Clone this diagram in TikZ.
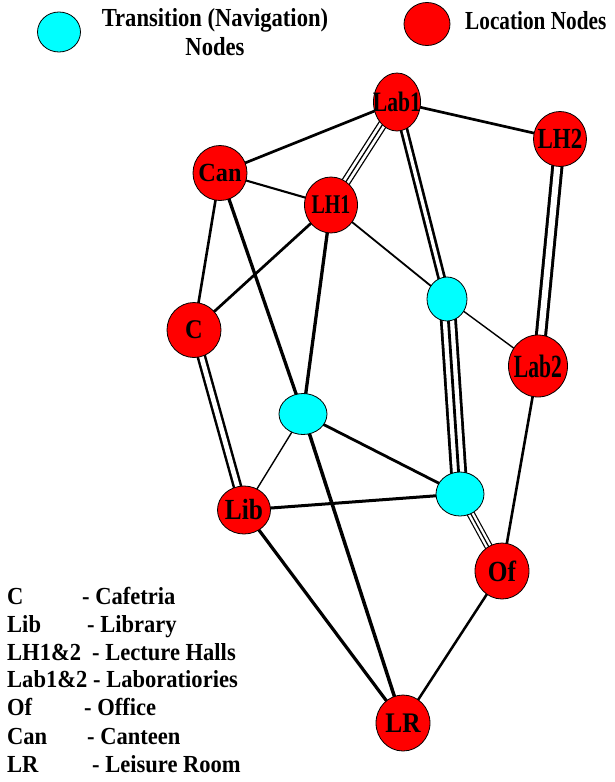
\documentclass[tikz,border=0pt]{standalone}
\usepackage{fontspec}
\usepackage{graphicx}
\setmainfont{Liberation Serif}
\newfontfamily\keyfont{Liberation Serif}[FakeStretch=0.87]
\newfontfamily\listfont{Liberation Serif}[FakeStretch=0.92]
\usetikzlibrary{shapes.geometric,backgrounds}

\definecolor{locred}{RGB}{255,0,0}
\definecolor{navcyan}{RGB}{0,255,255}

% label text squeezed/stretched inside its ellipse
\newcommand{\nodetxt}[3]{\scalebox{#1}[#2]{#3}}

\tikzset{
  loc/.style 2 args={ellipse, draw=black, line width=0.8pt, fill=locred,
    inner sep=0pt, outer sep=0pt, minimum width=#1, minimum height=#2},
  trans/.style 2 args={ellipse, draw=black, line width=0.8pt, fill=navcyan,
    inner sep=0pt, outer sep=0pt, minimum width=#1, minimum height=#2},
  lbl/.style={font=\bfseries\fontsize{27}{27}\selectfont, inner sep=0pt},
  keytext/.style={font=\keyfont\bfseries\fontsize{26}{29}\selectfont, inner sep=0pt},
  listtext/.style={font=\listfont\bfseries\fontsize{24.5}{28}\selectfont,
    inner sep=0pt, anchor=base west},
  link/.style={line width=#1},
  twin/.style 2 args={line width=#1, double=white, double distance=#2},
}

\begin{document}
\begin{tikzpicture}[x=1pt,y=-1pt]
\useasboundingbox (0,0) rectangle (615,782);

% ---- key at the top ----
\node[trans={43}{40}] (keyT) at (59,32) {};
\node[keytext, align=center, anchor=base] (keyTtxt) at (215,55)
  {Transition (Navigation)\\Nodes};
\node[loc={46}{43}] (keyL) at (427,24) {};
\node[keytext, anchor=base west] (keyLtxt) at (465,29)
  {\scalebox{0.94}[1]{Location Nodes}};

% ---- location and transition nodes ----
\node[loc={47}{58}, label={[lbl]center:\nodetxt{0.8}{1.04}{Lab1}}] (lab1) at (397,102) {};
\node[loc={53}{55}, label={[lbl]center:\nodetxt{0.85}{1.08}{LH2}}]  (lh2)  at (560,139) {};
\node[loc={54}{55}, label={[lbl]center:\nodetxt{0.9}{0.97}{Can}}] (can)  at (220,173) {};
\node[loc={53}{56}, label={[lbl]center:\nodetxt{0.74}{1.0}{LH1}}]  (lh1)  at (331,205) {};
\node[loc={54}{55}, label={[lbl]center:\nodetxt{0.9}{1.0}{C}}]    (c)    at (194,330) {};
\node[trans={40}{44}] (t1) at (447,299) {};
\node[loc={59}{62}, label={[lbl]center:\nodetxt{0.8}{1.2}{Lab2}}] (lab2) at (538,366) {};
\node[trans={48}{41}] (t2) at (303,414) {};
\node[loc={53}{48}, label={[lbl]center:\nodetxt{0.94}{1.08}{Lib}}]  (lib)  at (244,510) {};
\node[trans={48}{44}] (t3) at (460,494) {};
\node[loc={54}{56}, label={[lbl]center:\nodetxt{0.94}{1.08}{Of}}]   (of)   at (502,571) {};
\node[loc={54}{56}, label={[lbl]center:\nodetxt{0.94}{1.05}{LR}}]  (lr)   at (403,723) {};

% ---- connections, kept behind the nodes ----
\begin{scope}[on background layer]
  % single links
  \draw[link=2.7pt] (lab1.center) -- (can.center);
  \draw[link=2.7pt] (lab1.center) -- (lh2.center);
  \draw[link=2.1pt] (can.center) -- (lh1.center);
  \draw[link=2.6pt] (can.center) -- (c.center);
  \draw[link=3.3pt] (can.center) -- (t2.center);
  \draw[link=2.7pt] (lh1.center) -- (c.center);
  \draw[link=3.3pt] (lh1.center) -- (t2.center);
  \draw[link=1.8pt] (lh1.center) -- (t1.center);
  \draw[link=1.4pt] (t1.center) -- (lab2.center);
  \draw[link=2.6pt] (lab2.center) -- (of.center);
  \draw[link=1.4pt] (t2.center) -- (lib.center);
  \draw[link=2.8pt] (t2.center) -- (t3.center);
  \draw[link=3.5pt] (t2.center) -- (lr.center);
  \draw[link=3pt] (lib.center) -- (t3.center);
  \draw[link=3.2pt] (lib.center) -- (lr.center);
  \draw[link=2.5pt] (of.center) -- (lr.center);
  % double links
  \draw[twin={2.7pt}{3.4pt}] (lab1.center) -- (t1.center);
  \draw[twin={3pt}{6.2pt}] (lh2.center) -- (lab2.center);
  \draw[twin={2.5pt}{4.7pt}] (c.center) -- (lib.center);
  % triple links
  \draw[twin={1.3pt}{7pt}] (lab1.center) -- (lh1.center);
  \draw[link=1.3pt] (lab1.center) -- (lh1.center);
  \draw[twin={2.8pt}{11.5pt}] (t1.center) -- (t3.center);
  \draw[link=2.8pt] (t1.center) -- (t3.center);
  \draw[twin={1.2pt}{6pt}] (t3.center) -- (of.center);
  \draw[link=1.2pt] (t3.center) -- (of.center);
\end{scope}

% ---- abbreviations ----
\node[listtext] (kc)   at (7,604) {\makebox[75pt][l]{C}- Cafetria};
\node[listtext] (klib) at (7,632) {\makebox[80pt][l]{Lib}- Library};
\node[listtext] (klh)  at (7,660) {\makebox[85pt][l]{LH1\&2}- Lecture Halls};
\node[listtext] (klab) at (7,687) {\makebox[86pt][l]{Lab1\&2}- Laboratiories};
\node[listtext] (kof)  at (7,715) {\makebox[77pt][l]{Of}- Office};
\node[listtext] (kcan) at (7,744) {\makebox[80pt][l]{Can}- Canteen};
\node[listtext] (klr)  at (7,772) {\makebox[85pt][l]{LR}- Leisure Room};
\end{tikzpicture}
\end{document}
